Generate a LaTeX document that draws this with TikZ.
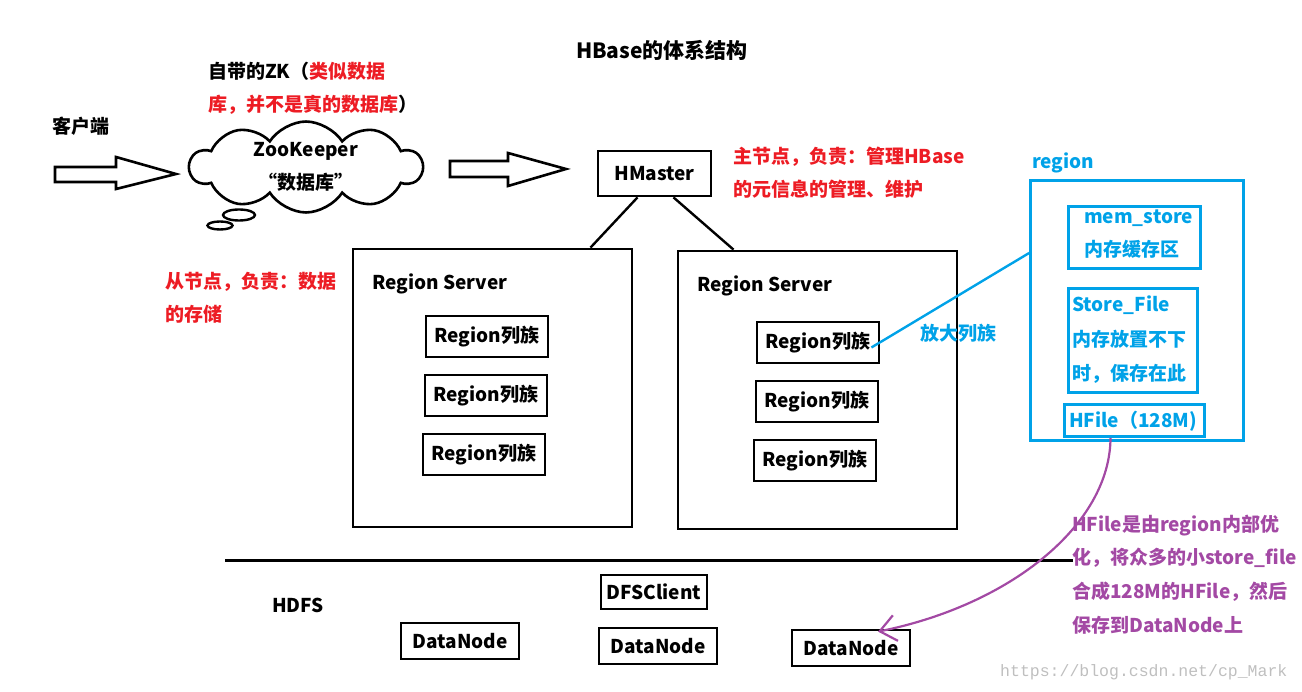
\documentclass[tikz,border=0pt]{standalone}
\usepackage{fontspec}
\setmainfont{Noto Sans CJK SC}
\newfontfamily\wmfont{Liberation Mono}
\usetikzlibrary{shapes.symbols,arrows.meta,calc}
\definecolor{zred}{HTML}{ED1C24}
\definecolor{zblue}{HTML}{00A2E8}
\definecolor{zpurple}{HTML}{A349A4}
\newcommand\bx[7][]{\node[box,#1,minimum width={#5-#3},minimum height={#6-#4}] (#2) at ({(#3+#5)/2},{(#4+#6)/2}) {#7};}
\begin{document}
\begin{tikzpicture}[x=1pt,y=-1pt,
  every node/.style={font=\bfseries\fontsize{19}{33}\selectfont, inner sep=0pt},
  box/.style={draw, line width=2.8pt},
  bbox/.style={draw=zblue, line width=2.8pt},
  lbl/.style={anchor=west, align=left},
  blockarrow/.style={draw, line width=2.6pt, line join=miter}]
\useasboundingbox (0,0) rectangle (1302,692);
% title
\node[font=\bfseries\fontsize{21}{25}\selectfont] (title) at (662,50) {HBase的体系结构};
% client
\node[lbl] (client) at (52,126) {客户端};
\draw[blockarrow] (55,167) -- (116,167) -- (116,157) -- (176,174) -- (116,189) -- (116,182) -- (55,182) -- cycle;
% zookeeper
\node[lbl] (zklbl) at (208,88.5) {自带的ZK（\textcolor{zred}{类似数据}\\\textcolor{zred}{库，并不是真的数据库}）};
\node[cloud, draw, line width=2.6pt, cloud puffs=10, cloud puff arc=115, cloud ignores aspect,
      minimum width=232pt, minimum height=78pt, align=center] (zk) at (306,167) {ZooKeeper\\“数据库”};
\draw[line width=2.4pt] (239,215) ellipse (16 and 5.5);
\draw[line width=2.4pt] (220,225.5) ellipse (12.5 and 4);
\draw[blockarrow] (450,161) -- (508,161) -- (508,153) -- (566,169) -- (508,186) -- (508,177) -- (450,177) -- cycle;
% hmaster
\bx{hm}{598}{151}{711}{196}{HMaster}
\node[lbl, text=zred] (hmlbl) at (733,173) {主节点，负责：管理HBase\\的元信息的管理、维护};
% region servers
\bx{rs1}{353}{249}{632}{527}{}
\bx{rs2}{678}{251}{957}{529}{}
\node[lbl] (rs1t) at (372,284) {Region Server};
\node[lbl] (rs2t) at (697,286) {Region Server};
\draw[line width=2.4pt] ([xshift=-17pt]hm.south) -- ([xshift=98pt]rs1.north);
\draw[line width=2.4pt] ([xshift=19pt]hm.south) -- ([xshift=-84pt]rs2.north);
\node[lbl, text=zred] (rslbl) at (165,297.5) {从节点，负责：数据\\的存储};
\bx{r11}{426}{316}{548}{357}{Region列族}
\bx{r12}{425}{375}{547}{416}{Region列族}
\bx{r13}{423}{434}{545}{475}{Region列族}
\bx{r21}{757}{322}{879}{363}{Region列族}
\bx{r22}{756}{381}{878}{422}{Region列族}
\bx{r23}{754}{440}{876}{481}{Region列族}
% region detail
\node[lbl, text=zblue] (rgt) at (1032,163) {region};
\node[bbox, minimum width=213pt, minimum height=260pt] (rg) at (1137,310.5) {};
\node[bbox, minimum width=132pt, minimum height=62pt] (ms) at (1134.5,237.5) {};
\node[lbl, text=zblue] (mst) at (1084,234) {mem\_store\\内存缓存区};
\node[bbox, minimum width=129pt, minimum height=104pt] (sf) at (1133,340.5) {};
\node[lbl, text=zblue, font=\bfseries\fontsize{19}{34.5}\selectfont] (sft) at (1072,340) {Store\_File\\内存放置不下\\时，保存在此};
\node[bbox, minimum width=140pt, minimum height=32pt] (hf) at (1134.5,420.5) {};
\node[lbl, text=zblue] (hft) at (1069,421) {HFile（128M)};
\draw[zblue, line width=2.4pt] ([xshift=-9pt,yshift=-5pt]r21.east) -- ([yshift=57.5pt]rg.west);
\node[lbl, text=zblue] (zoom) at (920,333) {放大列族};
% HDFS
\draw[line width=3pt] (225,560) -- (1073,560);
\node[lbl] (hdfs) at (272,605) {HDFS};
\bx{dfs}{601}{575}{707}{609}{DFSClient}
\bx{dn1}{401}{623}{519}{659}{DataNode}
\bx{dn2}{599}{628}{717}{664}{DataNode}
\bx{dn3}{792}{630}{910}{666}{DataNode}
% purple note and arrow
\node[lbl, text=zpurple, font=\bfseries\fontsize{19}{33.7}\selectfont] (note) at (1072,574.5) {HFile是由region内部优\\化，将众多的小store\_file\\合成128M的HFile，然后\\保存到DataNode上};
\draw[zpurple, line width=2.2pt, -{Straight Barb[length=16pt,width=26pt,line width=2.2pt]}]
  ([xshift=-24pt]hf.south) .. controls (1110,525) and (1010,605) .. ([xshift=27pt,yshift=-3pt]dn3.north);
% watermark
\node[lbl, font=\wmfont\fontsize{16.5}{20}\selectfont, text=black!25] (wm) at (1000,672) {https://blog.csdn.net/cp\_Mark};
\end{tikzpicture}
\end{document}
